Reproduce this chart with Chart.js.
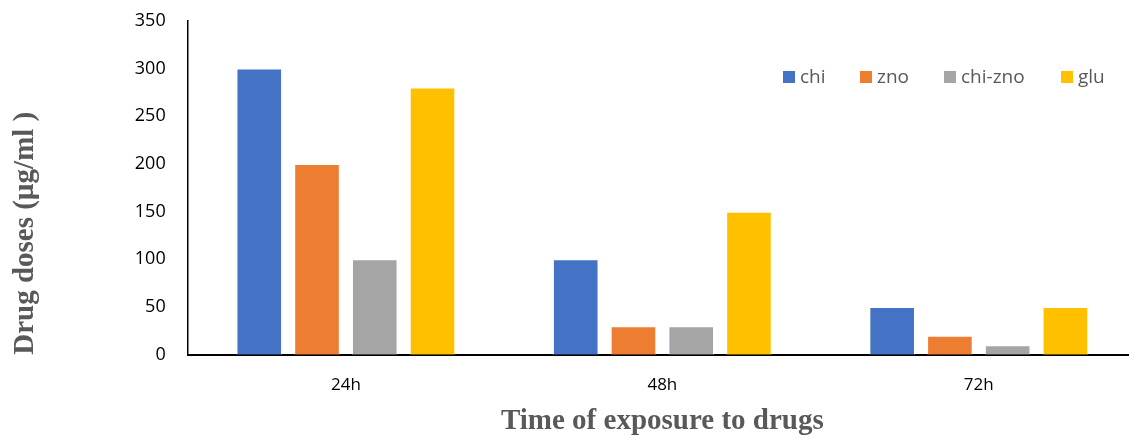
<!DOCTYPE html>
<html>
<head>
<meta charset="utf-8">
<script src="https://cdn.jsdelivr.net/npm/chart.js@4"></script>
<style>
  html, body { margin: 0; padding: 0; background: #fff; overflow: hidden; }
  #wrap { position: relative; top: -4px; width: 1137px; height: 443px; }
  #legend { position: absolute; left: 783px; top: 67px; margin: 0; padding: 0; list-style: none;
            font-family: "Open Sans", sans-serif; font-size: 19px; color: #595959; }
  #legend li { position: absolute; top: 0; white-space: nowrap; line-height: 26px; }
  #legend span { display: inline-block; width: 12px; height: 12px; margin-right: 5px; vertical-align: 0px; }
</style>
</head>
<body>
<div id="wrap"><canvas id="doseChart"></canvas><ul id="legend"></ul></div>
<script>
const categories = ["24h", "48h", "72h"];
const seriesNames = ["chi", "zno", "chi-zno", "glu"];
const chiValues = [300, 100, 50];
const znoValues = [200, 30, 20];
const chiZnoValues = [100, 30, 10];
const gluValues = [280, 150, 50];
const yTicks = [0, 50, 100, 150, 200, 250, 300, 350];
const seriesColors = ["#4472C4", "#ED7D31", "#A5A5A5", "#FFC000"];

const ctx = document.getElementById("doseChart").getContext("2d");

function makeSet(i, data) {
    return {
        label: seriesNames[i],
        data: data,
        backgroundColor: seriesColors[i],
        borderColor: "rgba(255,255,255,0.6)",
        borderWidth: 1,
        categoryPercentage: 0.73,
        barPercentage: 0.79
    };
}

const chart = new Chart(ctx, {
    type: "bar",
    data: {
        labels: categories,
        datasets: [
            makeSet(0, chiValues),
            makeSet(1, znoValues),
            makeSet(2, chiZnoValues),
            makeSet(3, gluValues)
        ]
    },
    options: {
        responsive: true,
        maintainAspectRatio: false,
        animation: false,
        layout: { padding: { top: 0, left: 8, right: 0, bottom: 0 } },
        plugins: {
            tooltip: { enabled: false },
            legend: { display: false }
        },
        scales: {
            x: {
                grid: { display: false },
                border: { display: true, color: "#000", width: 2 },
                ticks: {
                    color: "#000",
                    padding: 12,
                    font: { family: "Open Sans", size: 17 }
                },
                title: {
                    display: true,
                    text: "Time of exposure to drugs",
                    color: "#595959",
                    padding: { top: -3, bottom: 0 },
                    font: { family: "Liberation Serif", size: 29, weight: "bold" }
                }
            },
            y: {
                min: 0,
                max: 350,
                afterBuildTicks: axis => {
                    axis.ticks = yTicks.map(v => ({ value: v }));
                },
                grid: { display: false },
                border: { display: true, color: "#000", width: 1.5 },
                ticks: {
                    color: "#000",
                    padding: 14,
                    font: { family: "Open Sans", size: 18 }
                },
                title: {
                    display: true,
                    text: "Drug doses (µg/ml )",
                    align: "start",
                    color: "#595959",
                    padding: { top: 0, bottom: 78 },
                    font: { family: "Liberation Serif", size: 29, weight: "bold" }
                }
            }
        }
    }
});

// legend built from the datasets, placed inside the plot like the original
const legendOffsets = [0, 77, 161, 278];
const legendEl = document.getElementById("legend");
chart.data.datasets.forEach((ds, i) => {
    const li = document.createElement("li");
    li.style.left = legendOffsets[i] + "px";
    li.innerHTML = `<span style="background:${ds.backgroundColor}"></span>${ds.label}`;
    legendEl.appendChild(li);
});
</script>
</body>
</html>
